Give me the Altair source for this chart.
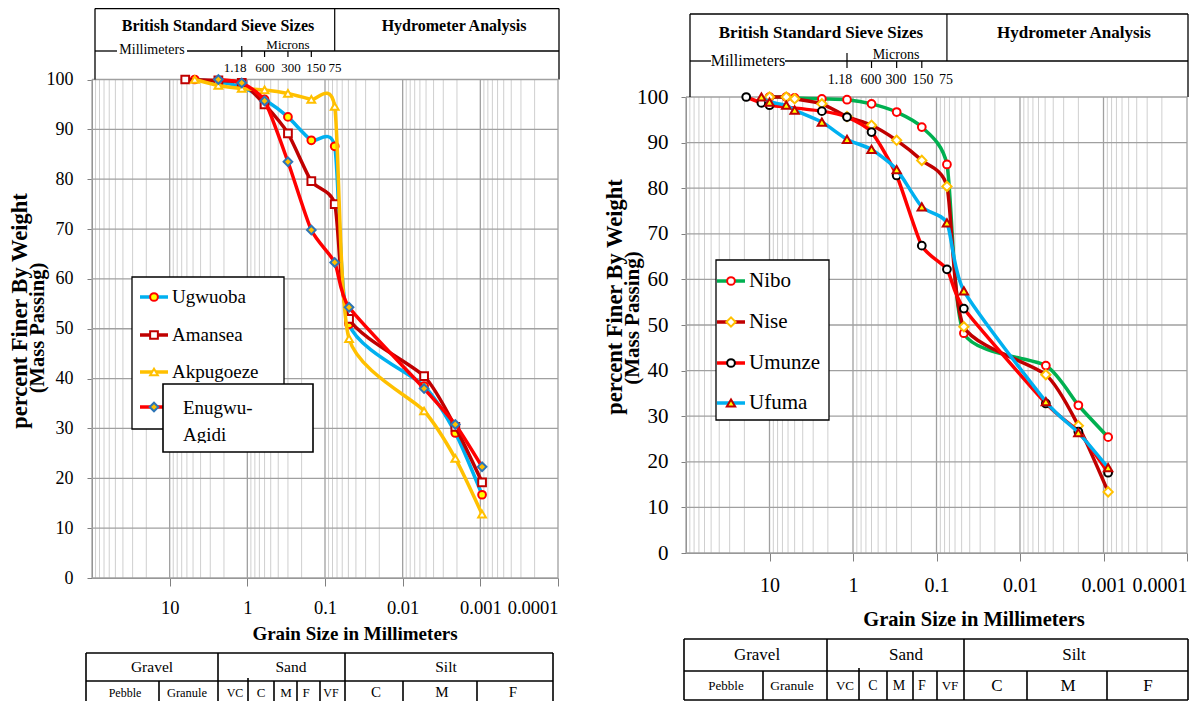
import altair as alt
import pandas as pd

FONT = "Liberation Serif"
W, H = 1187, 693
OFF = 8


def P(v):
    return v - OFF

# ---------------- DATA ----------------
# Left panel (grain size in mm, percent passing)
ugw_d = [4.75, 2.36, 1.18, 0.6, 0.3, 0.15, 0.075, 0.049, 0.0053, 0.0021, 0.00095]
ugw_p = [100, 99.5, 98.5, 96.0, 92.5, 87.8, 86.6, 50.9, 38.5, 29.1, 16.7]
ama_d = [6.3, 2.36, 1.18, 0.6, 0.3, 0.15, 0.075, 0.049, 0.0053, 0.0021, 0.00095]
ama_p = [100, 99.8, 99.3, 95.0, 89.2, 79.6, 75.0, 52.0, 40.5, 30.3, 19.2]
akp_d = [4.75, 2.36, 1.18, 0.6, 0.3, 0.15, 0.075, 0.049, 0.0053, 0.0021, 0.00095]
akp_p = [100, 98.8, 98.2, 97.9, 97.2, 96.0, 94.6, 48.0, 33.5, 24.0, 12.8]
enu_d = [2.36, 1.18, 0.6, 0.3, 0.15, 0.075, 0.049, 0.0053, 0.0021, 0.00095]
enu_p = [100, 99.3, 95.7, 83.5, 69.8, 63.3, 54.3, 38.0, 30.8, 22.3]

# Right panel
nib_d = [10, 6.3, 5, 2.36, 1.18, 0.6, 0.3, 0.15, 0.075, 0.047, 0.0049, 0.002, 0.00088]
nib_p = [100, 100, 99.8, 99.6, 99.4, 98.5, 96.7, 93.4, 85.2, 48.2, 41.1, 32.4, 25.4]
nis_d = [10, 6.3, 5, 2.36, 1.18, 0.6, 0.3, 0.15, 0.075, 0.047, 0.0049, 0.002, 0.00088]
nis_p = [100, 100, 99.6, 98.5, 95.7, 93.8, 90.5, 86.1, 80.4, 49.6, 39.1, 27.9, 13.4]
umu_d = [19, 12.5, 10, 2.36, 1.18, 0.6, 0.3, 0.15, 0.075, 0.047, 0.0049, 0.002, 0.00088]
umu_p = [100, 98.7, 98.2, 96.9, 95.6, 92.3, 82.8, 67.4, 62.2, 53.6, 32.8, 26.6, 17.6]
ufu_d = [12.5, 10, 6.3, 5, 2.36, 1.18, 0.6, 0.3, 0.15, 0.075, 0.047, 0.0049, 0.002, 0.00088]
ufu_p = [100, 98.9, 98.2, 97.1, 94.5, 90.7, 88.5, 84.1, 75.9, 72.4, 57.5, 33.2, 26.4, 18.7]

L_names = ["Ugwuoba", "Amansea", "Akpugoeze", "Enugwu-Agidi"]
R_names = ["Nibo", "Nise", "Umunze", "Ufuma"]
L_data = [(ugw_d, ugw_p), (ama_d, ama_p), (akp_d, akp_p), (enu_d, enu_p)]
R_data = [(nib_d, nib_p), (nis_d, nis_p), (umu_d, umu_p), (ufu_d, ufu_p)]

xtick_vals = [10, 1, 0.1, 0.01, 0.001, 0.0001]
xtick_text = ["10", "1", "0.1", "0.01", "0.001", "0.0001"]
ytick_vals = [0, 10, 20, 30, 40, 50, 60, 70, 80, 90, 100]
decades = [0.0001, 0.001, 0.01, 0.1, 1, 10, 100]
minors = [k * d for d in [0.0001, 0.001, 0.01, 0.1, 1, 10] for k in range(2, 10)]
sieve_marks = [1.18, 0.6, 0.3, 0.15]
hydro_split = 0.075

# ---------------- STYLES ----------------
L_style = [
    dict(line="#00B0F0", shape="circle", fill="#FFFF00", stroke="#FF0000", size=60),
    dict(line="#C00000", shape="square", fill="#FFFFFF", stroke="#C00000", size=60),
    dict(line="#FFC000", shape="triangle-up", fill="#FFFFFF", stroke="#FFC000", size=60),
    dict(line="#FF0000", shape="diamond", fill="#FFC000", stroke="#2E75B6", size=75),
]
R_style = [
    dict(line="#00B050", shape="circle", fill="#FFFFFF", stroke="#FF0000", size=60),
    dict(line="#C00000", shape="diamond", fill="#FFFFFF", stroke="#FFC000", size=85),
    dict(line="#FF0000", shape="circle", fill="#FFFFFF", stroke="#000000", size=60),
    dict(line="#00B0F0", shape="triangle-up", fill="#FFFF00", stroke="#C00000", size=70),
]

xsL = alt.Scale(type="log", domain=[0.0001, 100], range=[P(558), P(92)], nice=False)
ysL = alt.Scale(domain=[0, 100], range=[P(578), P(79.5)], nice=False, zero=False)
xsR = alt.Scale(type="log", domain=[0.0001, 100], range=[P(1187), P(686)], nice=False)
ysR = alt.Scale(domain=[0, 100], range=[P(553), P(97)], nice=False, zero=False)

label_expr = ""
for v, t in zip(xtick_vals, xtick_text):
    label_expr += f"abs(datum.value - {v}) < {v * 0.01} ? '{t}' : "
label_expr += "''"
label_align = {"condition": {"test": "datum.value < 0.0002", "value": "right"}, "value": "center"}


def x_axis(axis_y, fs, pad):
    return alt.Axis(orient="bottom", offset=P(axis_y) - H, values=xtick_vals, labelExpr=label_expr,
                    tickSize=8, tickColor="#808080", domainColor="#808080", labelFont=FONT,
                    labelFontSize=fs, labelColor="black", labelPadding=pad, grid=False, title=None,
                    labelAlign=label_align, labelFlush=False, labelOverlap=False)


def y_axis(axis_x, fs, pad):
    return alt.Axis(orient="left", offset=-P(axis_x), values=ytick_vals, tickSize=5,
                    tickColor="#808080", domainColor="#808080", labelFont=FONT, labelFontSize=fs,
                    labelColor="black", labelPadding=pad, grid=False, title=None, labelOverlap=False)


def grid_layers(xs, ys, xax, yax):
    dmin = pd.DataFrame({"v": minors, "lo": 0, "hi": 100})
    minor = alt.Chart(dmin).mark_rule(color="#CFCFCF", strokeWidth=1).encode(
        x=alt.X("v:Q", scale=xs, axis=None), y=alt.Y("lo:Q", scale=ys, axis=None), y2="hi:Q")
    ddec = pd.DataFrame({"v": decades, "lo": 0, "hi": 100})
    major = alt.Chart(ddec).mark_rule(color="#A0A0A0", strokeWidth=1.3).encode(
        x=alt.X("v:Q", scale=xs, axis=xax), y=alt.Y("lo:Q", scale=ys, axis=None), y2="hi:Q")
    dh = pd.DataFrame({"v": ytick_vals, "lo": 0.0001, "hi": 100})
    horiz = alt.Chart(dh).mark_rule(color="#A0A0A0", strokeWidth=1.3).encode(
        y=alt.Y("v:Q", scale=ys, axis=yax), x=alt.X("lo:Q", scale=xs, axis=None), x2="hi:Q")
    return [minor, major, horiz]


def series_layers(d, p, xs, ys, st):
    df = pd.DataFrame({"d": d, "p": p})
    enc = dict(x=alt.X("d:Q", scale=xs, axis=None), y=alt.Y("p:Q", scale=ys, axis=None))
    line = alt.Chart(df).mark_line(color=st["line"], strokeWidth=3.5, interpolate="cardinal",
                                   tension=0.35).encode(**enc)
    pts = alt.Chart(df).mark_point(shape=st["shape"], filled=True, fill=st["fill"], stroke=st["stroke"],
                                   strokeWidth=2, size=st["size"], opacity=1).encode(**enc)
    return [line, pts]


def text_layer(rows, bold=False, align="center", angle=0):
    df = pd.DataFrame(rows, columns=["t", "x", "y", "s"])
    df["x"] = df["x"] - OFF
    df["y"] = df["y"] - OFF
    return alt.Chart(df).mark_text(font=FONT, fontWeight="bold" if bold else "normal", align=align,
                                   baseline="middle", color="black", angle=angle).encode(
        x=alt.X("x:Q", scale=None), y=alt.Y("y:Q", scale=None), text="t:N",
        size=alt.Size("s:Q", scale=None))


def rule_layer(rows, color="black", width=1.3):
    df = pd.DataFrame(rows, columns=["x", "y", "x2", "y2"]) - OFF
    return alt.Chart(df).mark_rule(color=color, strokeWidth=width).encode(
        x=alt.X("x:Q", scale=None), y=alt.Y("y:Q", scale=None), x2="x2:Q", y2="y2:Q")


def rect_layer(rows, stroke="black", width=1.3):
    df = pd.DataFrame(rows, columns=["x", "y", "x2", "y2"]) - OFF
    kw = dict(fill="white")
    if stroke:
        kw.update(stroke=stroke, strokeWidth=width)
    return alt.Chart(df).mark_rect(**kw).encode(
        x=alt.X("x:Q", scale=None), y=alt.Y("y:Q", scale=None), x2="x2:Q", y2="y2:Q")


def scale_ticks(xs, rows):
    df = pd.DataFrame(rows, columns=["d", "y1", "y2"])
    df["y1"] = df["y1"] - OFF
    df["y2"] = df["y2"] - OFF
    return alt.Chart(df).mark_rule(color="black", strokeWidth=1.2).encode(
        x=alt.X("d:Q", scale=xs, axis=None), y=alt.Y("y1:Q", scale=None), y2="y2:Q")


def legend_entry(x1, x2, xm, y, st):
    ln = rule_layer([(x1, y, x2, y)], color=st["line"], width=3.5)
    df = pd.DataFrame({"x": [xm - OFF], "y": [y - OFF]})
    pt = alt.Chart(df).mark_point(shape=st["shape"], filled=True, fill=st["fill"], stroke=st["stroke"],
                                  strokeWidth=2, size=st["size"], opacity=1).encode(
        x=alt.X("x:Q", scale=None), y=alt.Y("y:Q", scale=None))
    return [ln, pt]


layers = []
layers += grid_layers(xsL, ysL, x_axis(578, 18.5, 12), y_axis(92, 18, 14))
layers += grid_layers(xsR, ysR, x_axis(553, 20, 14), y_axis(686, 21, 13))
for (d, p), st in zip(L_data, L_style):
    layers += series_layers(d, p, xsL, ysL, st)
for (d, p), st in zip(R_data, R_style):
    layers += series_layers(d, p, xsR, ysR, st)

# ---- header boxes ----
layers.append(rule_layer([(95, 8.5, 559, 8.5), (95, 8.5, 95, 79.5), (559, 8.5, 559, 79.5),
                          (95, 51, 117, 51), (187, 51, 559, 51)]))
layers.append(scale_ticks(xsL, [(sieve_marks[0], 46, 57)] + [(s, 51, 57) for s in sieve_marks[1:]]
                          + [(hydro_split, 8.5, 51)]))
layers.append(rule_layer([(690, 14, 1188, 14), (690, 14, 690, 97), (1188, 14, 1188, 97),
                          (690, 61, 711, 61), (785, 61, 1188, 61)]))
layers.append(scale_ticks(xsR, [(sieve_marks[0], 53, 68)] + [(s, 61, 68) for s in sieve_marks[1:]]
                          + [(hydro_split, 14, 61)]))
layers.append(text_layer([
    ("British Standard Sieve Sizes", 218, 26, 16), ("Hydrometer Analysis", 454, 26, 16),
    ("British Standard Sieve Sizes", 821, 33, 17), ("Hydrometer Analysis", 1074, 33, 17),
    ("Grain Size in Millimeters", 355, 634, 19), ("Grain Size in Millimeters", 974, 620, 20.5),
], bold=True))
layers.append(text_layer([
    ("Millimeters", 152, 50, 14), ("Microns", 288, 45, 13),
    ("1.18", 235, 68, 13), ("600", 265, 68, 13), ("300", 291, 68, 13), ("150", 316, 68, 13), ("75", 335, 68, 13),
    ("Millimeters", 748, 61, 16), ("Microns", 896, 55, 14),
    ("1.18", 840, 80, 14), ("600", 871, 80, 14), ("300", 896, 80, 14), ("150", 923, 80, 14), ("75", 946, 80, 14),
]))

# ---- legends ----
layers.append(rect_layer([(132, 277, 284, 429), (716, 260, 829, 420)]))
for y, st in zip([297, 335, 372, 407], L_style):
    layers += legend_entry(140, 168, 154, y, st)
for y, st in zip([281, 322, 363, 403], R_style):
    layers += legend_entry(717, 745, 731, y, st)
layers.append(text_layer([(L_names[0], 172, 297, 19), (L_names[1], 172, 335, 19), (L_names[2], 172, 372, 19),
                          (R_names[0], 749, 281, 21), (R_names[1], 749, 322, 21), (R_names[2], 749, 363, 21),
                          (R_names[3], 749, 403, 21)], align="left"))
layers.append(rect_layer([(163, 384, 313, 452)], width=1.6))
layers.append(text_layer([("Enugwu-", 183, 408, 19), ("Agidi", 183, 435, 19)], align="left"))
layers.append(rect_layer([(164.5, 443, 311.5, 450.5)], stroke=None))

# ---- classification tables ----
layers.append(rule_layer([
    (86, 653, 553, 653), (86, 681, 553, 681),
    (86, 653, 86, 701), (553, 653, 553, 701), (218, 653, 218, 701), (345, 653, 345, 701),
    (159, 681, 159, 701), (248, 678, 248, 701), (274, 681, 274, 701), (297, 681, 297, 701),
    (320, 681, 320, 701), (403, 681, 403, 701), (477, 681, 477, 701),
    (684, 639, 1188, 639), (684, 671, 1188, 671), (684, 700, 1188, 700),
    (684, 639, 684, 700), (1188, 639, 1188, 700), (827, 639, 827, 700), (964, 639, 964, 700),
    (763, 671, 763, 700), (859, 668, 859, 700), (887, 671, 887, 700), (913, 671, 913, 700),
    (937, 671, 937, 700), (1027, 671, 1027, 700), (1107, 671, 1107, 700),
], width=1.6))
layers.append(text_layer([
    ("Gravel", 152, 667, 15.5), ("Sand", 291, 667, 15.5), ("Silt", 446, 667, 15.5),
    ("Pebble", 125, 693, 12), ("Granule", 187, 693, 12.5), ("VC", 235, 693, 12), ("C", 261, 693, 13),
    ("M", 286, 693, 13), ("F", 306, 693, 13), ("VF", 331, 693, 12),
    ("C", 376, 692, 15), ("M", 442, 692, 15), ("F", 513, 692, 15),
    ("Gravel", 757, 655, 17), ("Sand", 906, 655, 17), ("Silt", 1074, 655, 17),
    ("Pebble", 726, 686, 13), ("Granule", 792, 686, 13.5), ("VC", 845, 686, 13), ("C", 873, 686, 14),
    ("M", 899, 686, 14), ("F", 922, 686, 14), ("VF", 950, 686, 13),
    ("C", 997, 686, 17), ("M", 1068, 686, 17), ("F", 1148, 686, 17),
]))

# ---- y titles ----
layers.append(text_layer([
    ("percent Finer  By Weight", 20, 311, 22.5), ("(Mass Passing)", 38, 328, 20.5),
    ("percent Finer  By Weight", 615, 297, 22.5), ("(Mass Passing)", 633, 318, 21),
], bold=True, angle=270))

chart = alt.layer(*layers).resolve_scale(x="independent", y="independent").properties(
    width=W, height=H, autosize=alt.AutoSizeParams(type="none"), padding=0
).configure_view(stroke="transparent")

chart.save("out.html", embed_options={"renderer": "svg", "actions": False})
